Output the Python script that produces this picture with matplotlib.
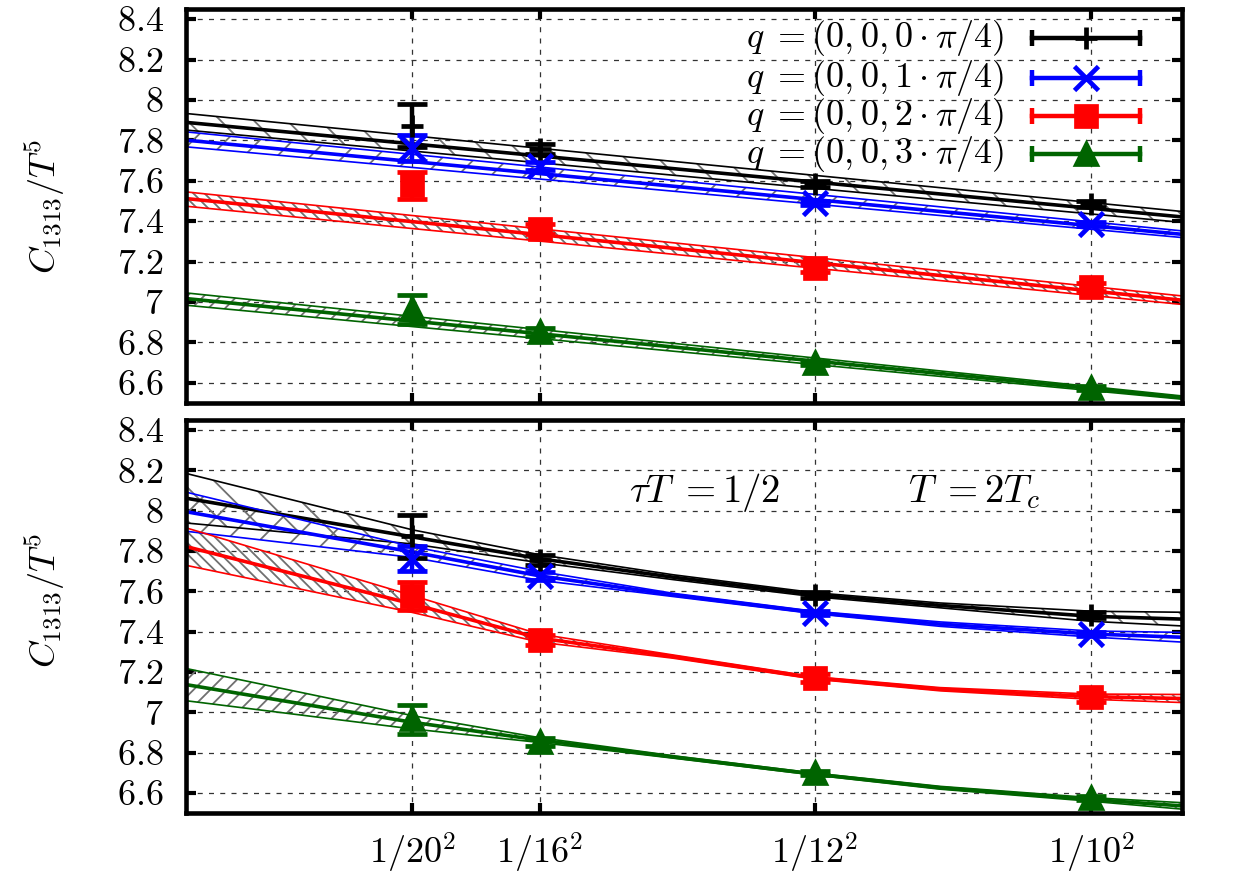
import matplotlib
matplotlib.use('Agg')
import matplotlib.pyplot as plt

plt.rcParams['mathtext.fontset'] = 'cm'
plt.rcParams['font.family'] = 'serif'
plt.rcParams['font.serif'] = ['cmr10', 'DejaVu Serif']
plt.rcParams['hatch.linewidth'] = 1.3
plt.rcParams['hatch.color'] = '#707070'

# ---------------- data ----------------
x_pts = [1 / 20**2, 1 / 16**2, 1 / 12**2, 1 / 10**2]
xtick_labels = [r'$1/20^2$', r'$1/16^2$', r'$1/12^2$', r'$1/10^2$']
yticks = [6.6, 6.8, 7.0, 7.2, 7.4, 7.6, 7.8, 8.0, 8.2, 8.4]
ytick_labels = [r'$6.6$', r'$6.8$', r'$7$', r'$7.2$', r'$7.4$', r'$7.6$',
                r'$7.8$', r'$8$', r'$8.2$', r'$8.4$']

series_labels = [r'$q\;= (0, 0, 0\cdot\pi/4)$', r'$q\;= (0, 0, 1\cdot\pi/4)$',
                 r'$q\;= (0, 0, 2\cdot\pi/4)$', r'$q\;= (0, 0, 3\cdot\pi/4)$']

y_q0 = [7.873, 7.757, 7.583, 7.484]
e_q0 = [0.107, 0.025, 0.015, 0.015]
y_q1 = [7.762, 7.675, 7.490, 7.386]
e_q1 = [0.063, 0.020, 0.010, 0.010]
y_q2 = [7.577, 7.360, 7.170, 7.073]
e_q2 = [0.068, 0.025, 0.020, 0.020]
y_q3 = [6.965, 6.850, 6.698, 6.572]
e_q3 = [0.072, 0.020, 0.010, 0.010]

# top panel: linear fit bands (x = 0 and x = 0.011)
x_fit_top = [0.0, 0.011]
top_hi_q0 = [7.933, 7.448]; top_mid_q0 = [7.889, 7.421]; top_lo_q0 = [7.851, 7.394]
top_hi_q1 = [7.842, 7.352]; top_mid_q1 = [7.801, 7.335]; top_lo_q1 = [7.768, 7.319]
top_hi_q2 = [7.545, 7.030]; top_mid_q2 = [7.512, 7.009]; top_lo_q2 = [7.474, 6.988]
top_hi_q3 = [7.045, 6.535]; top_mid_q3 = [7.017, 6.527]; top_lo_q3 = [6.984, 6.519]

# bottom panel: curved fit bands
x_fit_bot = [0.0, 0.0025, 0.0039, 0.00538, 0.00694, 0.00833, 0.0100, 0.0110]
bot_hi_q0 = [8.185, 7.905, 7.782, 7.682, 7.593, 7.542, 7.501, 7.496]
bot_mid_q0 = [8.062, 7.870, 7.762, 7.670, 7.583, 7.530, 7.476, 7.462]
bot_lo_q0 = [7.939, 7.835, 7.742, 7.658, 7.573, 7.518, 7.451, 7.428]
bot_hi_q1 = [8.092, 7.822, 7.699, 7.590, 7.501, 7.448, 7.403, 7.396]
bot_mid_q1 = [7.995, 7.795, 7.677, 7.582, 7.495, 7.437, 7.388, 7.372]
bot_lo_q1 = [7.898, 7.768, 7.655, 7.574, 7.489, 7.426, 7.373, 7.348]
bot_hi_q2 = [7.915, 7.579, 7.388, 7.284, 7.176, 7.122, 7.090, 7.088]
bot_mid_q2 = [7.822, 7.537, 7.368, 7.276, 7.170, 7.114, 7.077, 7.068]
bot_lo_q2 = [7.729, 7.495, 7.348, 7.268, 7.164, 7.106, 7.064, 7.048]
bot_hi_q3 = [7.217, 6.983, 6.874, 6.784, 6.698, 6.632, 6.576, 6.551]
bot_mid_q3 = [7.137, 6.950, 6.862, 6.778, 6.693, 6.625, 6.567, 6.535]
bot_lo_q3 = [7.057, 6.917, 6.850, 6.772, 6.688, 6.618, 6.558, 6.519]

ylabel = r'$C_{1313}/T^5$'
annot1 = r'$\tau T\;= 1/2$'
annot2 = r'$T\;= 2T_c$'

# ---------------- styles ----------------
colors = ['black', '#0000ff', '#ff0000', '#006400']
markers = ['+', 'x', 's', '^']
msizes = [16, 17, 15, 14]
hatches = ['\\', '/', '\\\\\\', '//']
FS = 26
FS_TXT = 28
FS_LEG = 26

pts = [(y_q0, e_q0), (y_q1, e_q1), (y_q2, e_q2), (y_q3, e_q3)]
top_bands = [(top_hi_q0, top_mid_q0, top_lo_q0), (top_hi_q1, top_mid_q1, top_lo_q1),
             (top_hi_q2, top_mid_q2, top_lo_q2), (top_hi_q3, top_mid_q3, top_lo_q3)]
bot_bands = [(bot_hi_q0, bot_mid_q0, bot_lo_q0), (bot_hi_q1, bot_mid_q1, bot_lo_q1),
             (bot_hi_q2, bot_mid_q2, bot_lo_q2), (bot_hi_q3, bot_mid_q3, bot_lo_q3)]

fig = plt.figure(figsize=(12.5, 8.75), dpi=100)
ax_top = fig.add_axes([0.1488, 0.5394, 0.7968, 0.4503])
ax_bot = fig.add_axes([0.1488, 0.0709, 0.7968, 0.4491])


def draw_panel(ax, xf, bands):
    for i in range(4):
        hi, mid, lo = bands[i]
        ax.fill_between(xf, lo, hi, facecolor='none', edgecolor='#707070',
                        hatch=hatches[i], linewidth=0, zorder=2)
        ax.plot(xf, hi, color=colors[i], lw=1.2, zorder=3)
        ax.plot(xf, lo, color=colors[i], lw=1.2, zorder=3)
        ax.plot(xf, mid, color=colors[i], lw=2.6, zorder=3)
    for i in range(4):
        y, e = pts[i]
        ax.errorbar(x_pts, y, yerr=e, fmt=markers[i], color=colors[i],
                    ms=msizes[i], mew=3.4, elinewidth=3.2, capsize=11,
                    capthick=3.2, zorder=5)
    ax.set_xlim(0, 0.011)
    ax.set_ylim(6.5, 8.45)
    ax.set_xticks(x_pts)
    ax.set_yticks(yticks)
    ax.set_yticklabels(ytick_labels)
    ax.grid(True, color='0.2', lw=0.9, ls=(0, (4, 5)))
    ax.set_axisbelow(True)
    ax.tick_params(direction='in', length=7, width=3, top=True, right=True,
                   labelsize=FS)
    ax.tick_params(axis='y', pad=16)
    ax.tick_params(axis='x', pad=13)
    for s in ax.spines.values():
        s.set_linewidth(3.3)
        s.set_zorder(10)
    ax.set_ylabel(ylabel, fontsize=FS)


draw_panel(ax_top, x_fit_top, top_bands)
ax_top.set_xticklabels([])
ax_top.yaxis.set_label_coords(-0.119, 0.5)

draw_panel(ax_bot, x_fit_bot, bot_bands)
ax_bot.set_xticklabels(xtick_labels)
ax_bot.yaxis.set_label_coords(-0.119, 0.54)

ax_bot.text(0.00573, 8.09, annot1, fontsize=FS_TXT, ha='center', va='center')
ax_bot.text(0.00870, 8.09, annot2, fontsize=FS_TXT, ha='center', va='center')

# legend (gnuplot style: text right, sample with caps)
row_y = [0.926, 0.826, 0.728, 0.632]
for i in range(4):
    yy = row_y[i]
    ax_top.text(0.822, yy, series_labels[i], transform=ax_top.transAxes,
                fontsize=FS_LEG, ha='right', va='center', zorder=12)
    ax_top.plot([0.849, 0.958], [yy, yy], transform=ax_top.transAxes,
                color=colors[i], lw=3.2, zorder=12, clip_on=False)
    ax_top.plot([0.849, 0.958], [yy, yy], transform=ax_top.transAxes,
                ls='none', marker='|', ms=11, mew=3.2, color=colors[i],
                zorder=12, clip_on=False)
    ax_top.plot([0.904], [yy], transform=ax_top.transAxes, ls='none',
                marker=markers[i], ms=msizes[i], mew=3.4, color=colors[i],
                zorder=12, clip_on=False)

fig.savefig('out.png', dpi=100)
